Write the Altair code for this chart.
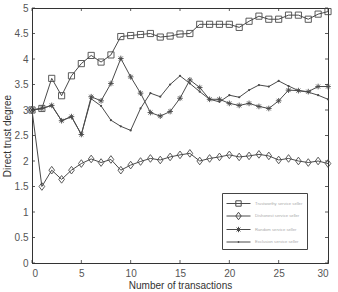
import altair as alt
import pandas as pd

x_vals = list(range(31))
trustworthy = [3.0, 3.03, 3.62, 3.28, 3.67, 3.91, 4.07, 3.94, 4.08, 4.44, 4.46, 4.48, 4.5, 4.43, 4.45, 4.49,
               4.5, 4.68, 4.68, 4.68, 4.68, 4.62, 4.74, 4.84, 4.78, 4.78, 4.86, 4.86, 4.78, 4.88, 4.93]
dishonest = [3.0, 1.5, 1.82, 1.64, 1.82, 1.95, 2.04, 1.97, 2.03, 1.82, 1.92, 1.99, 2.05, 2.02, 2.08, 2.12,
             2.15, 2.0, 2.05, 2.08, 2.12, 2.08, 2.1, 2.13, 2.1, 2.02, 2.05, 2.0, 1.97, 2.0, 1.95]
random_s = [3.0, 3.03, 3.09, 2.79, 2.87, 2.52, 3.26, 3.18, 3.52, 4.01, 3.65, 3.33, 2.95, 2.88, 2.97, 3.23,
            3.59, 3.44, 3.21, 3.21, 3.13, 3.09, 3.13, 3.07, 3.03, 3.18, 3.39, 3.38, 3.36, 3.46, 3.46]
exclusion = [3.0, 3.03, 3.09, 2.79, 2.87, 2.52, 3.22, 3.08, 2.8, 2.68, 2.6, 3.03, 3.33, 3.26, 3.5, 3.67,
             3.52, 3.36, 3.21, 3.16, 3.29, 3.25, 3.39, 3.49, 3.46, 3.57, 3.47, 3.38, 3.35, 3.29, 3.21]
series_names = ["Trustworthy service seller", "Dishonest service seller",
                "Random service seller", "Exclusion service seller"]
x_ticks = [0, 5, 10, 15, 20, 25, 30]
y_ticks = [0, 0.5, 1, 1.5, 2, 2.5, 3, 3.5, 4, 4.5, 5]

rows = []
for name, vals in zip(series_names, [trustworthy, dishonest, random_s, exclusion]):
    for xv, yv in zip(x_vals, vals):
        rows.append({"x": xv, "y": yv, "series": name, "legend": name})
df = pd.DataFrame(rows)

W, H = 296, 255
LINE = "#4a4a4a"

xs = alt.Scale(domain=[0, 30], nice=False, zero=False)
ys = alt.Scale(domain=[0, 5], nice=False)

X_AX = alt.Axis(values=x_ticks, title="Number of transactions", grid=False, ticks=False,
                labelPadding=5, labelOverlap=False, format="d")
Y_AX = alt.Axis(values=y_ticks, title="Direct trust degree", grid=False, ticks=False,
                labelPadding=4, labelOverlap=False, format="~g")

base = alt.Chart(df)

lines = base.mark_line(color=LINE, strokeWidth=1).encode(
    x=alt.X("x:Q", scale=xs, axis=X_AX),
    y=alt.Y("y:Q", scale=ys, axis=Y_AX),
    detail="series:N",
)

ASTER = "M-1,0H1M0,-1V1M-0.7,-0.7L0.7,0.7M-0.7,0.7L0.7,-0.7"


def pts(i, **kw):
    return base.transform_filter(alt.datum.series == series_names[i]).mark_point(
        color=LINE, opacity=1, **kw
    ).encode(x=alt.X("x:Q", scale=xs, axis=X_AX), y=alt.Y("y:Q", scale=ys, axis=Y_AX))


p_sq = pts(0, shape="square", size=38, filled=False, strokeWidth=0.9)
p_di = pts(1, shape="M0,-1.35L1,0L0,1.35L-1,0Z", size=32, filled=False, strokeWidth=0.9)
p_as = pts(2, shape=ASTER, size=32, filled=False, strokeWidth=0.9)
p_dot = pts(3, shape="circle", size=5, filled=True)

# legend symbols: line segment plus marker (path units: 1 = sqrt(size)/2 px)
LEG_LINE = "M-2,0H2"
leg_paths = [
    LEG_LINE + "M-0.45,-0.45H0.45V0.45H-0.45Z",
    LEG_LINE + "M0,-0.62L0.45,0L0,0.62L-0.45,0Z",
    LEG_LINE + "M-0.45,0H0.45M0,-0.45V0.45M-0.32,-0.32L0.32,0.32M-0.32,0.32L0.32,-0.32",
    LEG_LINE + "M-0.07,-0.07H0.07V0.07H-0.07Z",
]
legend_layer = base.mark_point(size=144, opacity=0, filled=False, color=LINE).encode(
    x=alt.X("x:Q", scale=xs, axis=X_AX),
    y=alt.Y("y:Q", scale=ys, axis=Y_AX),
    shape=alt.Shape("legend:N", scale=alt.Scale(domain=series_names, range=leg_paths),
                    legend=alt.Legend(title=None, orient="none", legendX=190, legendY=185,
                                      symbolOpacity=1, symbolStrokeColor=LINE,
                                      symbolFillColor="transparent", symbolStrokeWidth=1,
                                      symbolSize=144, labelFontSize=4.2, labelColor="#aaaaaa",
                                      labelFont="Liberation Sans", rowPadding=0.5,
                                      padding=4, strokeColor="#444444", fillColor="white",
                                      labelOffset=10, symbolOffset=6, labelLimit=120)),
)

# inward tick marks
xt = pd.DataFrame({"t": x_ticks})
yt = pd.DataFrame({"t": y_ticks})
tick_style = dict(color="#333333", strokeWidth=0.8)
xt_bot = alt.Chart(xt).mark_rule(**tick_style).encode(
    x=alt.X("t:Q", scale=xs, axis=X_AX), y=alt.value(H - 3), y2=alt.value(H))
xt_top = alt.Chart(xt).mark_rule(**tick_style).encode(
    x=alt.X("t:Q", scale=xs, axis=X_AX), y=alt.value(0), y2=alt.value(3))
yt_left = alt.Chart(yt).mark_rule(**tick_style).encode(
    y=alt.Y("t:Q", scale=ys, axis=Y_AX), x=alt.value(0), x2=alt.value(3))
yt_right = alt.Chart(yt).mark_rule(**tick_style).encode(
    y=alt.Y("t:Q", scale=ys, axis=Y_AX), x=alt.value(W - 3), x2=alt.value(W))

chart = alt.layer(
    lines, p_sq, p_di, p_as, p_dot, legend_layer, xt_bot, xt_top, yt_left, yt_right
).properties(
    width=W, height=H,
    autosize=alt.AutoSizeParams(type="none"),
    padding={"left": 32, "top": 8, "right": 10, "bottom": 29},
    background="white",
).configure_view(
    stroke="#333333", strokeWidth=1
).configure_axis(
    domainColor="#333333", domainWidth=1,
    labelFont="Liberation Sans", labelFontSize=10, labelColor="#555555",
    titleFont="Liberation Sans", titleFontSize=10, titleColor="#333333", titleFontWeight="normal",
).configure_axisX(
    titlePadding=2
).configure_axisY(
    titlePadding=2
)

chart.save("out.html", embed_options={"renderer": "svg", "actions": False})
